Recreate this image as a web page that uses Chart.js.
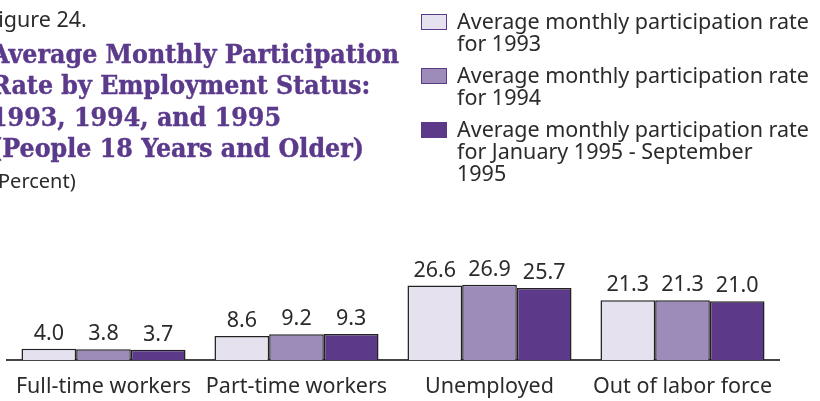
<!DOCTYPE html>
<html>
<head>
<meta charset="utf-8">
<script src="https://cdn.jsdelivr.net/npm/chart.js@4.4.1/dist/chart.umd.min.js"></script>
<style>
  html, body { margin: 0; padding: 0; background: #fff; overflow: hidden; }
  #wrap { position: relative; width: 820px; height: 401px; }
  #chart { position: absolute; left: 0; top: 0; }
  .txt { position: absolute; font-family: "Noto Sans", "DejaVu Sans", sans-serif; color: #2b2b2b; white-space: nowrap; font-size: 20px; }
  #fig { left: -13px; top: 4px; font-size: 21.5px; }
  #pct { left: -8px; top: 167px; }
  #title { position: absolute; left: -9px; top: 38px; font-family: "DejaVu Serif Condensed", "DejaVu Serif", serif; font-weight: 900;
           font-size: 26.5px; line-height: 31.3px; color: #5b3a8c; white-space: nowrap; -webkit-text-stroke: 0.4px #5b3a8c; }
  .leg { position: absolute; left: 421px; font-family: "Noto Sans", "DejaVu Sans", sans-serif; font-size: 21.5px;
         line-height: 22px; color: #2b2b2b; white-space: nowrap; }
  .leg i { position: absolute; left: 0; top: 4px; width: 24px; height: 14px; border: 1px solid #5b3a8c; }
  .leg span { position: absolute; left: 36px; top: 0; }
</style>
</head>
<body>
<div id="wrap">
  <canvas id="chart" width="820" height="401"></canvas>
  <div class="txt" id="fig">Figure 24.</div>
  <div id="title">Average Monthly Participation<br>Rate by Employment Status:<br>1993, 1994, and 1995<br>(People 18 Years and Older)</div>
  <div class="txt" id="pct">(Percent)</div>
  <div id="legend"></div>
</div>
<script>
const categories = ["Full-time workers", "Part-time workers", "Unemployed", "Out of labor force"];
const seriesNames = [
  ["Average monthly participation rate", "for 1993"],
  ["Average monthly participation rate", "for 1994"],
  ["Average monthly participation rate", "for January 1995 - September", "1995"]
];
const rate1993 = [4.0, 8.6, 26.6, 21.3];
const rate1994 = [3.8, 9.2, 26.9, 21.3];
const rate1995 = [3.7, 9.3, 25.7, 21.0];
const colors = ["#e6e1ef", "#9d8bb9", "#5d3989"];
const legendTops = [10, 64, 118];

// html legend on the right
const legendDiv = document.getElementById('legend');
seriesNames.forEach((lines, i) => {
  const d = document.createElement('div');
  d.className = 'leg';
  d.style.top = legendTops[i] + 'px';
  d.innerHTML = '<i style="background:' + colors[i] + '"></i><span>' + lines.join('<br>') + '</span>';
  legendDiv.appendChild(d);
});

// value labels above each bar
const valueLabels = {
  id: 'valueLabels',
  afterDatasetsDraw(chart) {
    const ctx = chart.ctx;
    ctx.save();
    ctx.font = '21.5px "Noto Sans", "DejaVu Sans", sans-serif';
    ctx.fillStyle = '#2b2b2b';
    ctx.textAlign = 'center';
    ctx.textBaseline = 'alphabetic';
    chart.data.datasets.forEach((ds, i) => {
      chart.getDatasetMeta(i).data.forEach((bar, j) => {
        ctx.fillText(ds.data[j].toFixed(1), bar.x, bar.y - 9);
      });
    });
    ctx.restore();
  }
};

const datasets = [rate1993, rate1994, rate1995].map((vals, i) => ({
  label: seriesNames[i].join(' '),
  data: vals,
  backgroundColor: colors[i],
  borderColor: '#222',
  borderWidth: 1.5,
  categoryPercentage: 0.85,
  barPercentage: 1.0
}));

new Chart(document.getElementById('chart'), {
  type: 'bar',
  data: { labels: categories, datasets: datasets },
  plugins: [valueLabels],
  options: {
    responsive: false,
    animation: false,
    events: [],
    layout: { padding: { left: 7, right: 41, top: 276, bottom: 0 } },
    plugins: { legend: { display: false }, tooltip: { enabled: false } },
    scales: {
      x: {
        grid: { display: false, drawTicks: false },
        border: { display: true, color: '#444', width: 2 },
        ticks: { color: '#2b2b2b', font: { family: '"Noto Sans", "DejaVu Sans", sans-serif', size: 21.5 }, padding: 14 },
        afterFit(scale) { scale.height = 41; }
      },
      y: { display: false, min: 0, max: 30 }
    }
  }
});
</script>
</body>
</html>
